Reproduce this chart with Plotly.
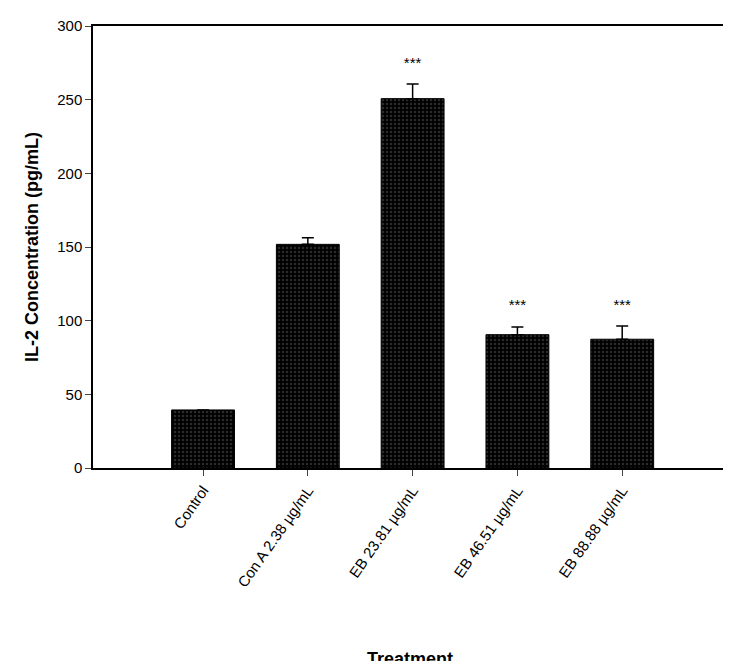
import plotly.graph_objects as go

treatments = ["Control", "Con A 2.38 µg/mL", "EB 23.81 µg/mL", "EB 46.51 µg/mL", "EB 88.88 µg/mL"]
il2_mean = [39.4, 151.8, 250.7, 90.5, 87.4]
il2_err = [0, 4.5, 9.9, 5.2, 9.0]
significance = ["", "", "***", "***", "***"]
star_y = [None, None, 274, 110, 110]

x_pos = list(range(len(treatments)))

fig = go.Figure()

fig.add_trace(
    go.Bar(
        x=x_pos,
        y=il2_mean,
        width=0.6,
        marker=dict(
            color="black",
            line=dict(color="black", width=1),
            pattern=dict(shape=".", fgcolor="#555555", bgcolor="black", size=4, solidity=0.3),
        ),
        error_y=dict(type="data", array=il2_err, symmetric=False, arrayminus=[0] * 5,
                     color="black", thickness=1.5, width=6),
        showlegend=False,
    )
)

fig.add_trace(
    go.Scatter(
        x=x_pos,
        y=star_y,
        mode="text",
        text=significance,
        textfont=dict(family="Arial", size=15, color="black"),
        showlegend=False,
    )
)

fig.update_layout(
    width=731,
    height=661,
    margin=dict(l=85, r=12, t=18, b=201),
    plot_bgcolor="white",
    paper_bgcolor="white",
    font=dict(family="Arial", color="black"),
)

fig.update_xaxes(
    range=[-1.05, 5.0],
    tickmode="array",
    tickvals=x_pos,
    ticktext=treatments,
    tickangle=-55,
    tickfont=dict(size=15, family="Arial"),
    ticks="outside",
    ticklen=6,
    showline=True,
    linecolor="black",
    linewidth=1.5,
    mirror=True,
    showgrid=False,
    zeroline=False,
    automargin=False,
    title=dict(text="<b>Treatment</b>", font=dict(size=18), standoff=150),
)

fig.update_yaxes(
    range=[0, 300],
    tickvals=[0, 50, 100, 150, 200, 250, 300],
    tickfont=dict(size=15, family="Arial"),
    ticks="outside",
    ticklen=6,
    showline=True,
    linecolor="black",
    linewidth=1.5,
    mirror=True,
    showgrid=False,
    zeroline=False,
    automargin=False,
    title=dict(text="<b>IL-2 Concentration (pg/mL)</b>", font=dict(size=18), standoff=14),
)

fig.write_html("out.html")
